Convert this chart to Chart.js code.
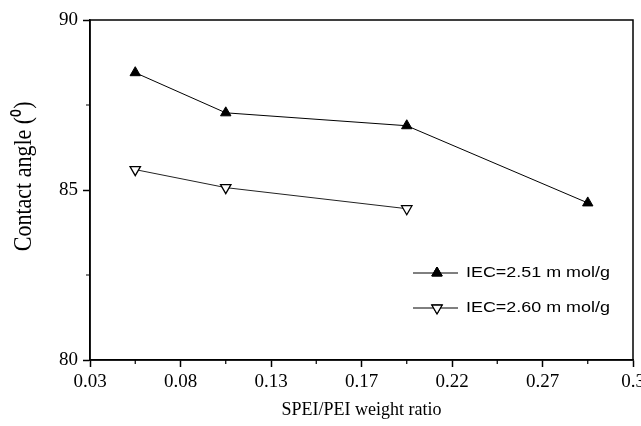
<!DOCTYPE html>
<html>
<head>
<meta charset="utf-8">
<script src="https://cdn.jsdelivr.net/npm/chart.js@4.4.1/dist/chart.umd.min.js"></script>
<style>
  html, body { margin: 0; padding: 0; background: #fff; }
  #wrap { width: 641px; height: 426px; position: relative; }
</style>
</head>
<body>
<div id="wrap"><canvas id="chart"></canvas></div>
<script>
// Contact angle vs SPEI/PEI weight ratio, two IEC series
const xTickLabels = ["0.03", "0.08", "0.13", "0.17", "0.22", "0.27", "0.3"]
const ratioA = [0.055, 0.105, 0.205, 0.305]
const angleA = [88.45, 87.27, 86.89, 84.62]
const ratioB = [0.055, 0.105, 0.205]
const angleB = [85.60, 85.07, 84.45]
const seriesNames = ["IEC=2.51 m mol/g", "IEC=2.60 m mol/g"]
const yTitle = "Contact angle (\u2070)"

const SERIF = "'Liberation Serif', 'Times New Roman', serif"
const SANS = "'Liberation Sans', Arial, sans-serif"

const toPoints = (xs, ys) => xs.map((x, i) => ({ x, y: ys[i] }))

// frame box + minor ticks + y title + inset legend
const framePlugin = {
  id: "frame",
  afterDraw(chart) {
    const { ctx, chartArea: a, scales: { x, y } } = chart
    ctx.save()
    ctx.strokeStyle = "#000"
    ctx.lineWidth = 1.5
    ctx.strokeRect(a.left, a.top, a.right - a.left, a.bottom - a.top)

    // minor ticks halfway between majors
    ctx.lineWidth = 1.2
    ctx.beginPath()
    for (let v = 0.055; v < 0.33; v += 0.05) {
      const px = x.getPixelForValue(v)
      ctx.moveTo(px, a.bottom)
      ctx.lineTo(px, a.bottom + 4)
    }
    for (const v of [82.5, 87.5]) {
      const py = y.getPixelForValue(v)
      ctx.moveTo(a.left, py)
      ctx.lineTo(a.left - 4, py)
    }
    ctx.stroke()

    // y axis title, a bit above the middle like the original
    ctx.save()
    ctx.translate(25, a.top + (a.bottom - a.top) * 0.46)
    ctx.rotate(-Math.PI / 2)
    ctx.scale(1, 1.12)
    ctx.fillStyle = "#000"
    ctx.font = "22px " + SERIF
    ctx.textAlign = "center"
    ctx.textBaseline = "middle"
    ctx.fillText(yTitle, 0, 0)
    ctx.restore()

    // legend
    const lx = a.right - 220
    const rows = [a.bottom - 87, a.bottom - 52]
    chart.data.datasets.forEach((ds, i) => {
      const ly = rows[i]
      ctx.strokeStyle = "#000"
      ctx.lineWidth = 1
      ctx.beginPath()
      ctx.moveTo(lx, ly)
      ctx.lineTo(lx + 45, ly)
      ctx.stroke()
      Chart.helpers.drawPoint(ctx, {
        pointStyle: "triangle",
        radius: ds.pointRadius,
        rotation: ds.pointRotation,
        borderWidth: ds.pointBorderWidth
      }, lx + 24, ly)
      ctx.fillStyle = ds.pointBackgroundColor
      ctx.strokeStyle = "#000"
      ctx.lineWidth = ds.pointBorderWidth
      ctx.fill()
      ctx.stroke()

      ctx.save()
      ctx.translate(lx + 53, ly)
      ctx.scale(1.28, 1)
      ctx.fillStyle = "#000"
      ctx.font = "14px " + SANS
      ctx.textBaseline = "middle"
      ctx.textAlign = "left"
      ctx.fillText(ds.label, 0, 0)
      ctx.restore()
    })
    ctx.restore()
  }
}

new Chart(document.getElementById("chart"), {
  type: "scatter",
  data: {
    datasets: [
      {
        label: seriesNames[0],
        data: toPoints(ratioA, angleA),
        showLine: true,
        borderColor: "#000",
        borderWidth: 1,
        pointStyle: "triangle",
        pointRadius: 6,
        pointRotation: 0,
        pointBorderWidth: 1,
        pointBackgroundColor: "#000",
        pointBorderColor: "#000"
      },
      {
        label: seriesNames[1],
        data: toPoints(ratioB, angleB),
        showLine: true,
        borderColor: "#222",
        borderWidth: 1,
        pointStyle: "triangle",
        pointRadius: 6,
        pointRotation: 180,
        pointBorderWidth: 1.3,
        pointBackgroundColor: "#fff",
        pointBorderColor: "#000"
      }
    ]
  },
  options: {
    responsive: true,
    maintainAspectRatio: false,
    animation: false,
    layout: { padding: { top: 20, right: 8, left: 0, bottom: 0 } },
    plugins: {
      legend: { display: false },
      tooltip: { enabled: false }
    },
    scales: {
      x: {
        type: "linear",
        min: 0.03,
        max: 0.33,
        afterFit: (s) => {
          s.height = 66
          s.paddingLeft = 0
          s.paddingRight = 0
        },
        afterBuildTicks: (s) => {
          s.ticks = xTickLabels.map((_, i) => ({ value: 0.03 + i * 0.05 }))
        },
        ticks: {
          color: "#000",
          padding: 4,
          maxRotation: 0,
          autoSkip: false,
          font: { family: SERIF, size: 19 },
          callback: (v, i) => xTickLabels[i]
        },
        grid: {
          drawOnChartArea: false,
          tickLength: 7,
          tickWidth: 1.5,
          tickColor: "#000"
        },
        border: { color: "#000", width: 1.5 },
        title: {
          display: true,
          text: "SPEI/PEI weight ratio",
          color: "#000",
          font: { family: SERIF, size: 18 },
          padding: { top: 0, bottom: 5 }
        }
      },
      y: {
        min: 80,
        max: 90,
        afterFit: (s) => { s.width = 90 },
        ticks: {
          stepSize: 5,
          color: "#000",
          padding: 5,
          font: { family: SERIF, size: 19 }
        },
        grid: {
          drawOnChartArea: false,
          tickLength: 7,
          tickWidth: 1.5,
          tickColor: "#000"
        },
        border: { color: "#000", width: 1.5 }
      }
    }
  },
  plugins: [framePlugin]
})
</script>
</body>
</html>
